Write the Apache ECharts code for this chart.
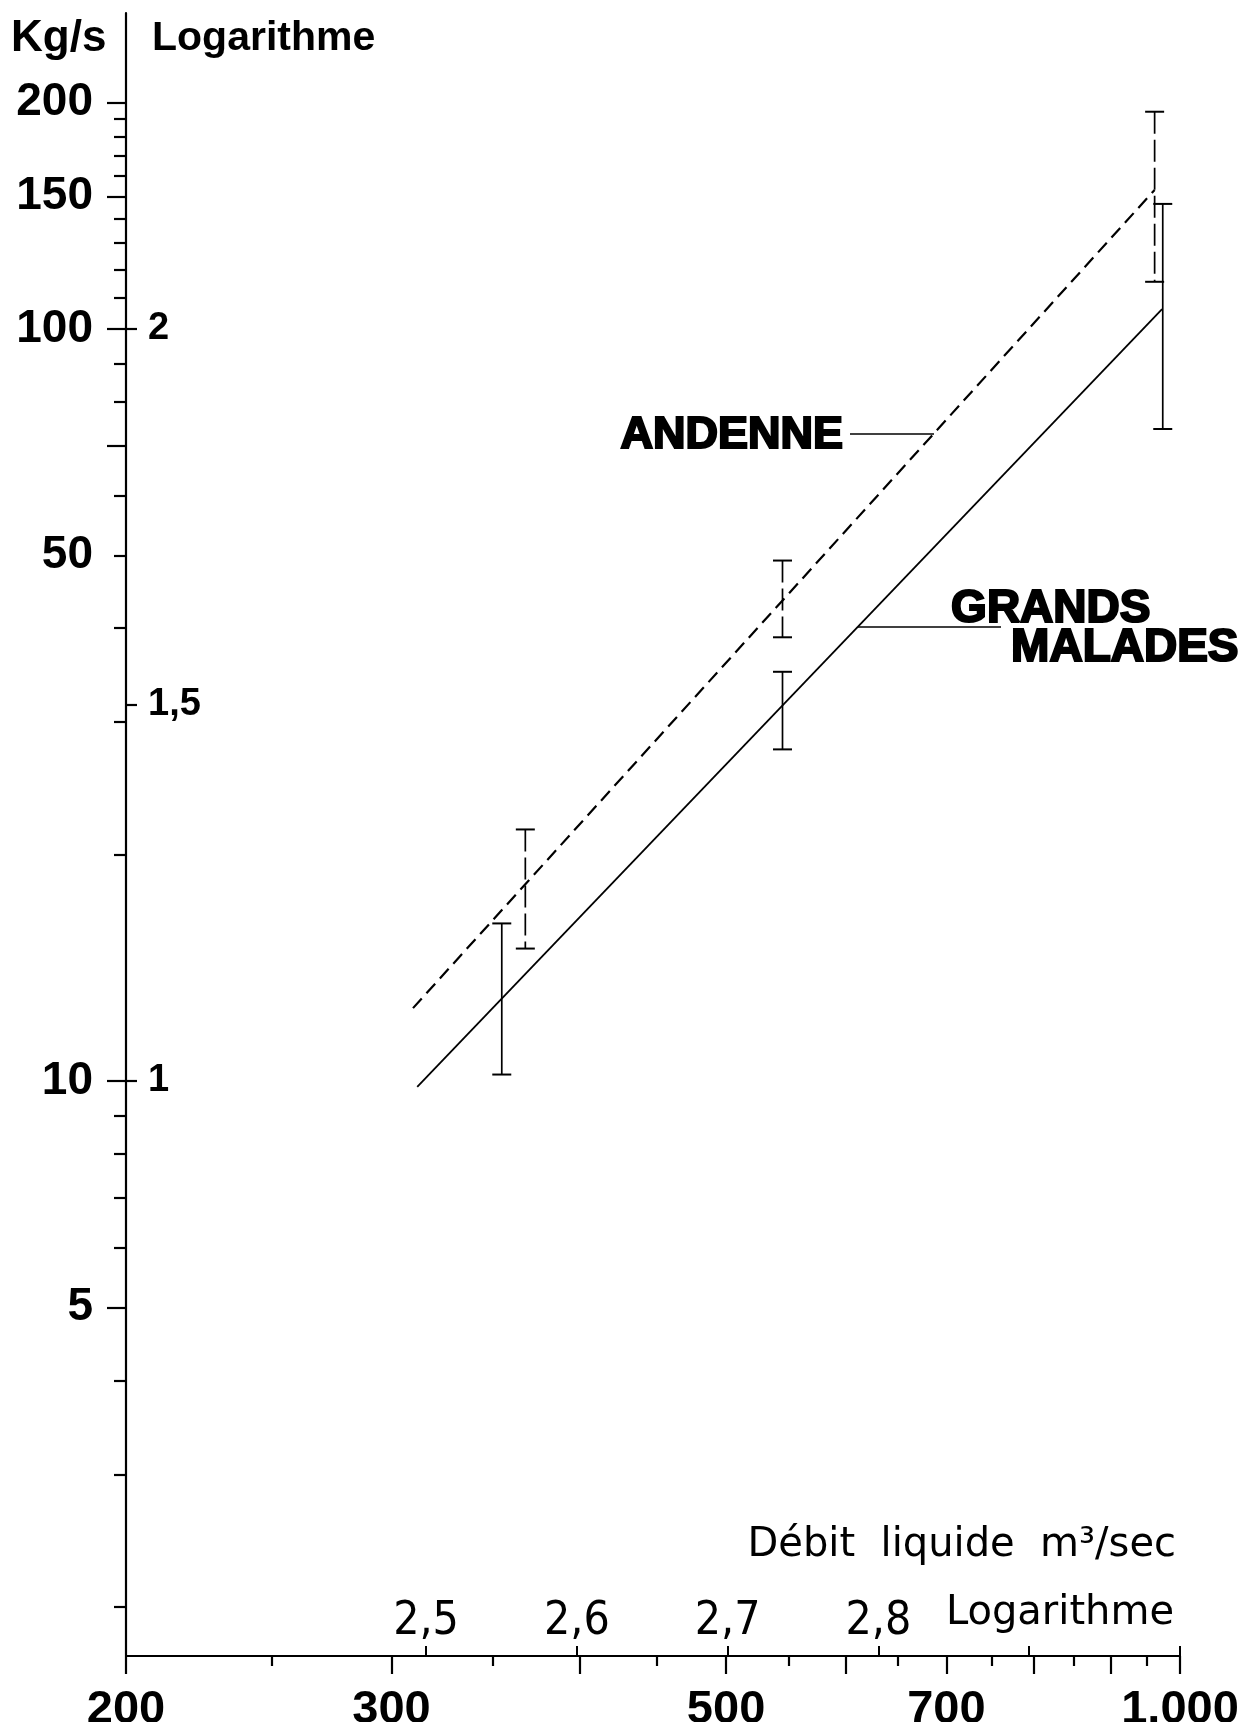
<!DOCTYPE html>
<html>
<head>
<meta charset="utf-8">
<script src="https://cdn.jsdelivr.net/npm/echarts@6/dist/echarts.min.js"></script>
<style>
  html, body { margin: 0; padding: 0; background: #fff; }
  #chart { width: 1245px; height: 1722px; }
</style>
</head>
<body>
<div id="chart"></div>
<script>
// débit liquide (m3/sec), log axis
const xMajorTicks = [200, 300, 400, 500, 600, 700, 800, 900, 1000];
const xMinorTicks = [250, 350, 450, 550, 650, 750, 850, 950];
const xLabels = [200, 300, 500, 700, 1000];
const xLogTicks = [2.5, 2.6, 2.7, 2.8, 2.9, 3];
const xLogLabels = [2.5, 2.6, 2.7, 2.8];

// transport solide (Kg/s), log axis
const yMajorTicks = [5, 10, 70, 100, 150, 200];
const yMinorTicks = [2, 3, 4, 6, 7, 8, 9, 20, 30, 40, 50, 60, 80, 90, 110, 120, 130, 140, 160, 170, 180, 190];
const yLabels = [5, 10, 50, 100, 150, 200];
const yLogTicks = [1, 1.5, 2];

// droites d'ajustement [débit, Kg/s]
const andenneLine = [[310, 12.5], [962, 153]];
const grandsMaladesLine = [[312, 9.82], [973, 106.2]];

// intervalles [débit, bas, haut]
const andenneBars = [[368, 15.0, 21.6], [545, 38.9, 49.2], [962, 115.5, 194.4]];
const grandsMaladesBars = [[355, 10.2, 16.2], [545, 27.6, 35.0], [974, 73.6, 146.6]];

const FONT = '"Liberation Sans", Arial, Helvetica, sans-serif';
const WIDE = '"DejaVu Sans", "Liberation Sans", sans-serif';
const NARROW = '"Liberation Sans Narrow", "DejaVu Sans Condensed", "Liberation Sans", sans-serif';
const X_MIN = 200, X_MAX = 1000, Y_MIN = 1.72, Y_MAX = 263;
const pow10 = v => Math.pow(10, v);
const logFmt = v => (Math.round(Math.log10(v) * 10) / 10).toString().replace('.', ',');

const gridBox = { left: 126, right: 65, top: 13, bottom: 66, containLabel: false, outerBoundsMode: 'none' };

function xAxisBase(i) {
  return {
    type: 'log', logBase: 10, gridIndex: i, min: X_MIN, max: X_MAX, position: 'bottom',
    axisLine: { show: false }, splitLine: { show: false },
    axisTick: { show: false }, axisLabel: { show: false }
  };
}
function yAxisBase(i) {
  return {
    type: 'log', logBase: 10, gridIndex: i, min: Y_MIN, max: Y_MAX, position: 'left',
    axisLine: { show: false }, splitLine: { show: false },
    axisTick: { show: false }, axisLabel: { show: false }
  };
}

const xAxes = [xAxisBase(0), xAxisBase(1), xAxisBase(2)];
const yAxes = [yAxisBase(0), yAxisBase(1), yAxisBase(2)];

// main axes: lines, long ticks, labels
Object.assign(xAxes[0], {
  axisLine: { show: true, lineStyle: { color: '#000', width: 2.2 } },
  axisTick: { show: true, customValues: xMajorTicks, length: 18, lineStyle: { color: '#000', width: 2.2 } },
  axisLabel: {
    show: true, customValues: xLabels, margin: 31,
    color: '#000', fontFamily: FONT, fontWeight: 'bold', fontSize: 47,
    formatter: v => v >= 1000 ? '1.000' : String(Math.round(v))
  }
});
Object.assign(yAxes[0], {
  axisLine: { show: true, lineStyle: { color: '#000', width: 2.2 } },
  axisTick: { show: true, customValues: yMajorTicks, length: 19, lineStyle: { color: '#000', width: 2.2 } },
  axisLabel: {
    show: true, customValues: yLabels, margin: 33,
    color: '#000', fontFamily: FONT, fontWeight: 'bold', fontSize: 46,
    formatter: v => String(Math.round(v))
  }
});

// short ticks
Object.assign(xAxes[1], {
  axisTick: { show: true, customValues: xMinorTicks, length: 10, lineStyle: { color: '#000', width: 2.2 } }
});
Object.assign(yAxes[1], {
  axisTick: { show: true, customValues: yMinorTicks, length: 12, lineStyle: { color: '#000', width: 2.2 } }
});

// logarithm scales on the inner side
Object.assign(xAxes[2], {
  axisTick: { show: true, inside: true, customValues: xLogTicks.map(pow10), length: 10, lineStyle: { color: '#000', width: 2 } },
  axisLabel: {
    show: true, inside: true, customValues: xLogLabels.map(pow10), margin: 11,
    color: '#000', fontFamily: NARROW, fontSize: 46, formatter: logFmt
  }
});
Object.assign(yAxes[2], {
  axisTick: { show: true, inside: true, customValues: yLogTicks.map(pow10), length: 11, lineStyle: { color: '#000', width: 2.2 } },
  axisLabel: {
    show: true, inside: true, customValues: yLogTicks.map(pow10), margin: 22,
    color: '#000', fontFamily: FONT, fontWeight: 'bold', fontSize: 38, formatter: logFmt
  }
});

function errorBar(dash) {
  return function (params, api) {
    const x = api.value(0);
    const lo = api.coord([x, api.value(1)]);
    const hi = api.coord([x, api.value(2)]);
    const cap = 9.5;
    const solid = { stroke: '#000', lineWidth: 2 };
    return {
      type: 'group',
      children: [
        { type: 'line', shape: { x1: hi[0], y1: hi[1], x2: lo[0], y2: lo[1] },
          style: { stroke: '#000', lineWidth: 1.7, lineDash: dash } },
        { type: 'line', shape: { x1: hi[0] - cap, y1: hi[1], x2: hi[0] + cap, y2: hi[1] }, style: solid },
        { type: 'line', shape: { x1: lo[0] - cap, y1: lo[1], x2: lo[0] + cap, y2: lo[1] }, style: solid }
      ]
    };
  };
}

const chart = echarts.init(document.getElementById('chart'), null, { renderer: 'canvas' });

const option = {
  animation: false,
  backgroundColor: '#fff',
  grid: [0, 1, 2].map(() => Object.assign({}, gridBox)),
  xAxis: xAxes,
  yAxis: yAxes,
  series: [
    {
      name: 'ANDENNE', type: 'line', xAxisIndex: 0, yAxisIndex: 0,
      data: andenneLine, showSymbol: false, symbol: 'none',
      lineStyle: { color: '#000', width: 2.2, type: [13, 7] }
    },
    {
      name: 'GRANDS MALADES', type: 'line', xAxisIndex: 0, yAxisIndex: 0,
      data: grandsMaladesLine, showSymbol: false, symbol: 'none',
      lineStyle: { color: '#000', width: 1.8 }
    },
    {
      type: 'custom', xAxisIndex: 0, yAxisIndex: 0,
      renderItem: errorBar([22, 6]), data: andenneBars,
      encode: { x: 0, y: [1, 2] }
    },
    {
      type: 'custom', xAxisIndex: 0, yAxisIndex: 0,
      renderItem: errorBar(null), data: grandsMaladesBars,
      encode: { x: 0, y: [1, 2] }
    }
  ],
  graphic: [
    { type: 'text', left: 11, top: 17,
      style: { text: 'Kg/s', fill: '#000', font: 'bold 44px ' + FONT } },
    { type: 'text', left: 152, top: 18,
      style: { text: 'Logarithme', fill: '#000', font: 'bold 41px ' + FONT } },
    { type: 'text', right: 69, top: 1526,
      style: { text: 'Débit  liquide  m³/sec', fill: '#000', font: '40px ' + WIDE } },
    { type: 'text', right: 71, top: 1594,
      style: { text: 'Logarithme', fill: '#000', font: '40px ' + WIDE } },
    // annotations
    { type: 'text', right: 1245 - 844, top: 412,
      style: { text: 'ANDENNE', fill: '#000', font: '900 45px ' + FONT, stroke: '#000', lineWidth: 2.2 } },
    { type: 'line', shape: { x1: 850, y1: 434, x2: 934, y2: 434 }, style: { stroke: '#000', lineWidth: 1.5 } },
    { type: 'text', left: 950, top: 585,
      style: { text: 'GRANDS', fill: '#000', font: '900 46px ' + FONT, stroke: '#000', lineWidth: 2.2 } },
    { type: 'text', left: 1010, top: 624,
      style: { text: 'MALADES', fill: '#000', font: '900 46px ' + FONT, stroke: '#000', lineWidth: 2.2 } },
    { type: 'line', shape: { x1: 858, y1: 627, x2: 1001, y2: 627 }, style: { stroke: '#000', lineWidth: 1.5 } }
  ]
};

chart.setOption(option);
window.addEventListener('resize', chart.resize);
</script>
</body>
</html>
